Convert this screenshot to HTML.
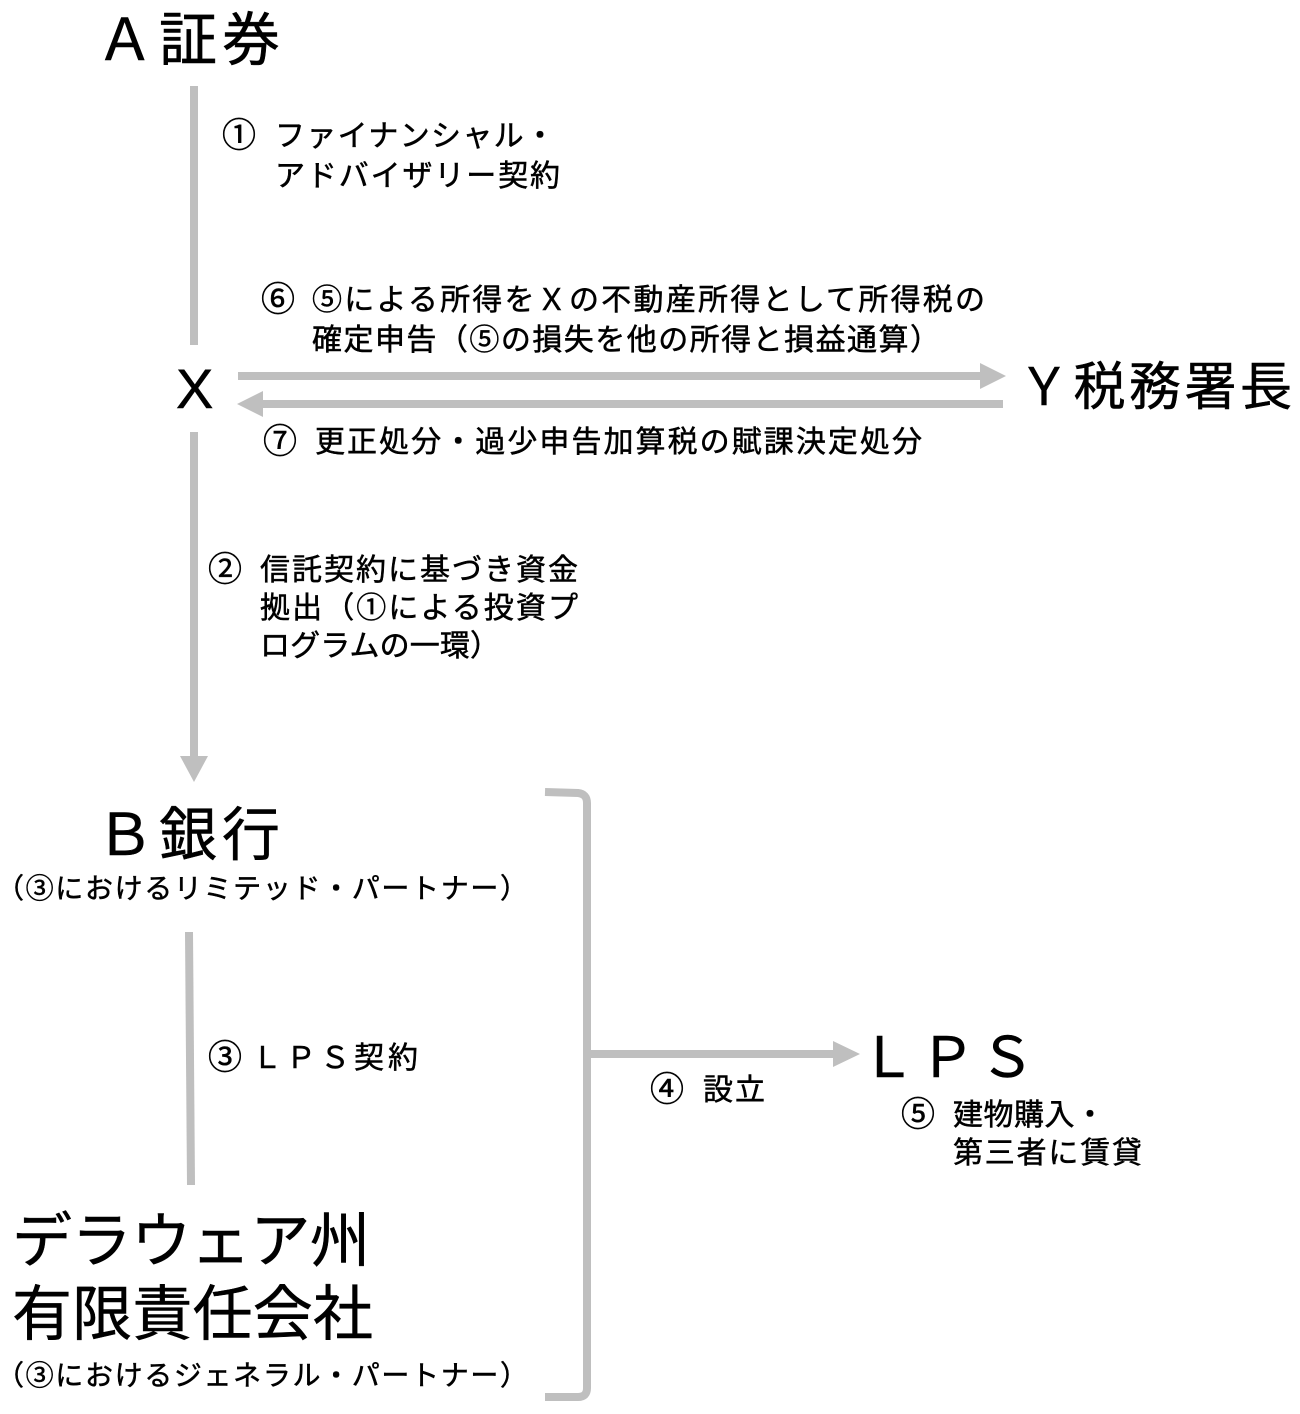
<!DOCTYPE html>
<html><head><meta charset="utf-8"><style>
html,body{margin:0;padding:0;background:#fff;}
svg{display:block;}
text{font-family:"Noto Sans CJK JP","Liberation Sans",sans-serif;fill:#000;stroke:#000;stroke-width:0.5px;}
.l{font-size:30px;}
.c{font-size:34px;}
</style></head><body>
<svg width="1300" height="1414" viewBox="0 0 1300 1414">
<g stroke="#bfbfbf" stroke-width="8" fill="none">
<line x1="194" y1="86" x2="194" y2="345"/>
<line x1="238" y1="376" x2="982" y2="376"/>
<line x1="1003" y1="404" x2="262" y2="404"/>
<line x1="194" y1="432" x2="194" y2="758"/>
<line x1="189" y1="932" x2="191" y2="1185"/>
<path d="M545 792 L578 793 Q587 794 587 803 L587 1388 Q587 1397 578 1397 L545 1397"/>
<line x1="587" y1="1054" x2="836" y2="1054"/>
</g>
<g fill="#bfbfbf">
<polygon points="980,363 1006,376 980,389"/>
<polygon points="263,391 237,404 263,417"/>
<polygon points="180,756 208,756 194,782"/>
<polygon points="833,1041 860,1054 833,1067"/>
</g>
<text x="96" y="60" font-size="58" textLength="184">Ａ証券</text>
<text class="c" x="222" y="147">①</text>
<text class="l" x="275" y="146" textLength="280">ファイナンシャル・</text>
<text class="l" x="275" y="186" textLength="285">アドバイザリー契約</text>
<text class="c" x="261" y="311">⑥</text>
<text class="l" x="312" y="310" textLength="673">⑤による所得をＸの不動産所得として所得税の</text>
<text class="l" x="312" y="350" textLength="628">確定申告（⑤の損失を他の所得と損益通算）</text>
<text x="176" y="408" font-size="56" style="font-family:'Liberation Sans',sans-serif">X</text>
<text x="1018" y="405" font-size="52" textLength="274">Ｙ税務署長</text>
<text class="c" x="263" y="453">⑦</text>
<text class="l" x="315" y="452" textLength="607">更正処分・過少申告加算税の賦課決定処分</text>
<text class="c" x="208" y="581">②</text>
<text class="l" x="260" y="580" textLength="318">信託契約に基づき資金</text>
<text class="l" x="260" y="618" textLength="318">拠出（①による投資プ</text>
<text class="l" x="260" y="656" textLength="240">ログラムの一環）</text>
<text x="96" y="855" font-size="58" textLength="184">Ｂ銀行</text>
<text x="-4" y="898" font-size="28" textLength="532">（③におけるリミテッド・パートナー）</text>
<text class="c" x="208" y="1069">③</text>
<text class="l" x="252" y="1068" textLength="166">ＬＰＳ契約</text>
<text x="12" y="1262" font-size="60" textLength="358">デラウェア州</text>
<text x="12" y="1335" font-size="60" textLength="361">有限責任会社</text>
<text x="-4" y="1385" font-size="28" textLength="532">（③におけるジェネラル・パートナー）</text>
<text class="c" x="650" y="1101">④</text>
<text class="l" x="703" y="1100" textLength="62">設立</text>
<text x="860" y="1077" font-size="56" textLength="175">ＬＰＳ</text>
<text class="c" x="901" y="1126">⑤</text>
<text class="l" x="953" y="1125" textLength="152">建物購入・</text>
<text class="l" x="953" y="1163" textLength="189">第三者に賃貸</text>
</svg>
</body></html>
